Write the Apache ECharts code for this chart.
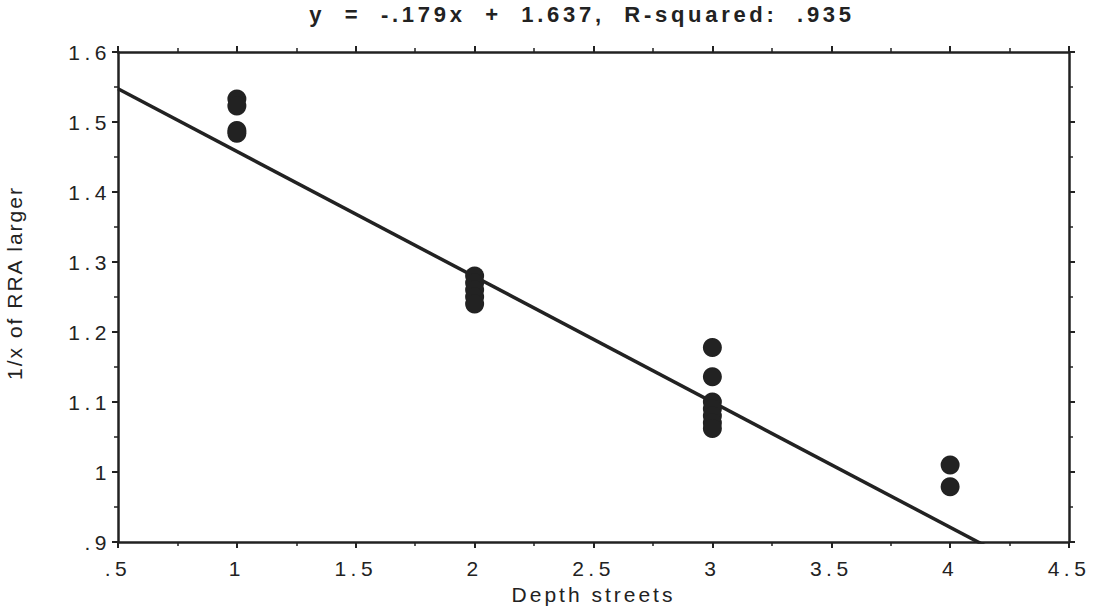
<!DOCTYPE html>
<html>
<head>
<meta charset="utf-8">
<script src="https://cdn.jsdelivr.net/npm/echarts@6/dist/echarts.min.js"></script>
<style>
  html, body { margin: 0; padding: 0; background: #fff; }
  #chart { width: 1097px; height: 611px; }
</style>
</head>
<body>
<div id="chart"></div>
<script>
// depth (streets) for each observation and 1/x of RRA larger
const depthValues = [1, 1, 1, 1, 2, 2, 2, 2, 2, 3, 3, 3, 3, 3, 3, 3, 4, 4];
const rraValues = [1.533, 1.523, 1.488, 1.484, 1.28, 1.27, 1.26, 1.25, 1.24,
  1.178, 1.136, 1.10, 1.09, 1.08, 1.07, 1.062, 1.010, 0.979];
// fitted line  y = -.179x + 1.637
const fitSlope = -0.179;
const fitIntercept = 1.637;
const fitX = [0.5, 4.5];

const ink = '#222';
const font = '"Liberation Sans", Arial, sans-serif';

let points = depthValues.map((d, i) => [d, rraValues[i]]);
let fitLine = fitX.map(x => [x, fitSlope * x + fitIntercept]);

function fmt(v) {
  // .5 / .9 style labels, no leading zero
  let s = String(Math.round(v * 100) / 100);
  return s.replace(/^0\./, '.');
}

let axisCommon = {
  type: 'value',
  axisLine: { show: true, onZero: false, lineStyle: { color: ink, width: 2.5 } },
  axisTick: { show: true, inside: false, length: 6, lineStyle: { color: ink, width: 2 } },
  minorTick: { show: true, splitNumber: 2, length: 4, lineStyle: { color: ink, width: 1.5 } },
  splitLine: { show: false }
};

let chart = echarts.init(document.getElementById('chart'), null, { renderer: 'svg' });
chart.setOption({
  animation: false,
  backgroundColor: '#fff',
  title: {
    text: 'y  =  -.179x  +  1.637,  R-squared:  .935',
    left: 577,
    textAlign: 'center',
    top: 0,
    padding: [3, 5],
    textStyle: { fontFamily: font, fontWeight: 'bold', fontSize: 22, color: ink }
  },
  grid: { left: 118, right: 28, top: 52, bottom: 69, outerBoundsMode: 'none' },
  xAxis: [
    Object.assign({}, axisCommon, {
      position: 'bottom',
      min: 0.5, max: 4.5, interval: 0.5,
      name: 'Depth streets',
      nameLocation: 'middle',
      nameGap: 42,
      nameTextStyle: { fontFamily: font, fontSize: 21, color: ink },
      axisLabel: { show: true, margin: 16, fontFamily: font, fontSize: 21, color: ink, formatter: fmt }
    }),
    Object.assign({}, axisCommon, {
      position: 'top',
      min: 0.5, max: 4.5, interval: 0.5,
      axisLabel: { show: false }
    })
  ],
  yAxis: [
    Object.assign({}, axisCommon, {
      position: 'left',
      min: 0.9, max: 1.6, interval: 0.1,
      name: '1/x of RRA larger',
      nameLocation: 'middle',
      nameGap: 93,
      nameTextStyle: { fontFamily: font, fontSize: 21, color: ink, padding: [0, 0, 0, 28] },
      axisLabel: { show: true, margin: 7, fontFamily: font, fontSize: 21, color: ink, formatter: fmt }
    }),
    Object.assign({}, axisCommon, {
      position: 'right',
      min: 0.9, max: 1.6, interval: 0.1,
      axisLabel: { show: false }
    })
  ],
  series: [
    {
      type: 'line',
      data: fitLine,
      showSymbol: false,
      clip: true,
      lineStyle: { color: ink, width: 3.5 },
      z: 2
    },
    {
      type: 'scatter',
      data: points,
      symbol: 'circle',
      symbolSize: 19,
      itemStyle: { color: ink, opacity: 1 },
      z: 3
    }
  ]
});

// the original typesetting is widely letter-spaced
document.querySelectorAll('#chart text').forEach(t => {
  let s = t.textContent;
  let sp = 4.5;
  if (s === 'Depth streets') sp = 3;
  else if (s === '1/x of RRA larger') sp = 2;
  else if (s.indexOf('R-squared') >= 0) sp = 3.7;
  t.style.letterSpacing = sp + 'px';
});
</script>
</body>
</html>
